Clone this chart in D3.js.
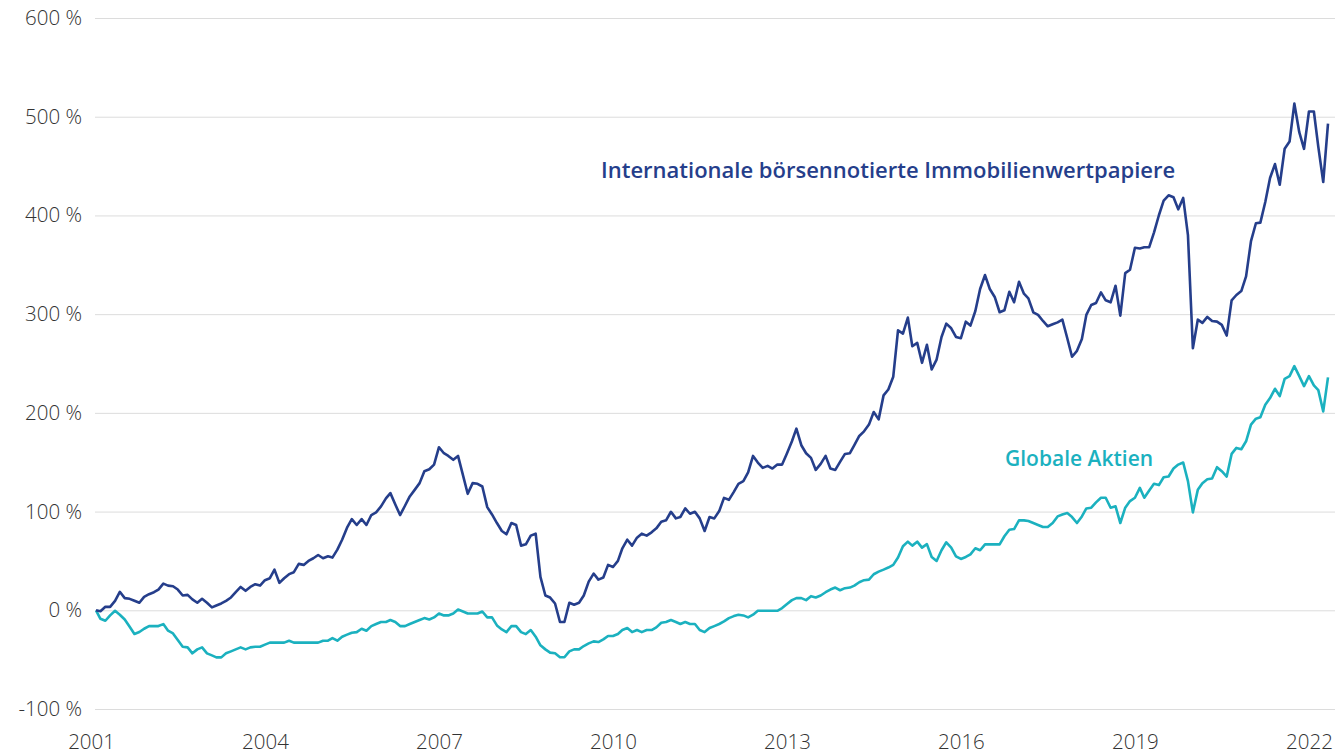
<!DOCTYPE html>
<html>
<head>
<meta charset="utf-8">
<script src="https://cdn.jsdelivr.net/npm/d3@7"></script>
<style>
  html, body { margin: 0; padding: 0; background: #ffffff; }
  svg { display: block; }
</style>
</head>
<body>
<svg id="chart" width="1335" height="755"></svg>
<script>
// ---------- DATA (monthly, first value = Feb 2001) ----------
const startYear = 2001;
const startMonth = 1; // February (0-based)

const yTicks = [-100, 0, 100, 200, 300, 400, 500, 600];
const xTickYears = [2001, 2004, 2007, 2010, 2013, 2016, 2019, 2022];

const seriesNames = ["Internationale börsennotierte Immobilienwertpapiere", "Globale Aktien"];

const reits = [
  0, -1, 3.5, 3.5, 9.6, 18.7, 12.3, 11.6, 9.6, 7.6,
  13.6, 16.3, 18.3, 21, 27, 25, 24.4, 21, 15, 15.6,
  11, 7.6, 11.6, 7.6, 2.9, 4.9, 6.9, 9.6, 13, 18.4,
  23.7, 19.7, 23.7, 26.4, 25, 30.5, 32.5, 41.2, 27.8, 32.5,
  36.6, 38.6, 47, 46, 50, 52.7, 56, 52.7, 54.7, 53.4,
  61.4, 71.5, 83.7, 92.4, 86.4, 92.4, 86.4, 96.5, 99.2, 105.2,
  113.3, 118.7, 107.2, 96.5, 105.9, 115.3, 122, 128.8, 140.9, 142.9,
  147.6, 165.2, 159.1, 156.4, 152.4, 156.4, 136.9, 118, 128.8, 128.1,
  125.4, 104.5, 97.1, 88.4, 80.3, 77, 88.4, 86.4, 65.5, 66.8,
  75.6, 77.6, 33.8, 15, 12.9, 6.9, -11.9, -11.9, 7.6, 5.6,
  7.6, 15, 29.1, 37.2, 31.1, 33.2, 46, 43.9, 50, 62.8,
  71.5, 65.5, 73.6, 77.6, 75.6, 79, 83, 89.7, 91.1, 99.8,
  93.1, 94.5, 103.2, 97.8, 99.8, 93.1, 80.3, 94.5, 93.1, 100.5,
  113.9, 111.9, 120, 128.1, 130.8, 139.6, 156.4, 149.7, 144.3, 146.3,
  143.6, 147.6, 147.6, 159.1, 171.2, 184, 167.2, 159.1, 154.4, 142.2,
  148.3, 156.4, 143.6, 142.2, 150.3, 158.4, 159.1, 167.2, 176.6, 181.3,
  188.1, 200.8, 193.4, 217.7, 223.7, 236.6, 283.6, 280.3, 296.5, 267.5,
  270.9, 250.7, 268.9, 244, 254, 276.9, 290.4, 285.7, 276.9, 275.6,
  292.4, 288.4, 303.2, 325.5, 339.6, 325.5, 317.4, 301.9, 303.9, 322.7,
  312, 332.8, 320.7, 316, 301.9, 299.2, 293.1, 287.7, 289.7, 291.7,
  294.4, 275.6, 256.8, 262.8, 274.9, 299.2, 309.3, 311.3, 322, 314,
  312, 328.8, 298.5, 341.6, 345, 367.2, 366.5, 367.8, 367.8, 382.6,
  400.2, 415, 420.4, 418.4, 406.2, 417.7, 380, 265.5, 294.4, 291.1,
  297.2, 293.1, 292.4, 289.1, 278.3, 314, 319.4, 323.4, 338.2, 373.9,
  392.1, 392.7, 413.6, 437.9, 452, 431.1, 467.5, 474.9, 513.3, 484.3,
  467.5, 505.3, 505.3, 469.5, 433.8, 493.1
];

const equities = [
  0, -8.6, -10.6, -5.2, -0.5, -4.5, -9.3, -16.7, -24, -22,
  -18.7, -16, -16, -16, -14, -20.7, -23.4, -30.1, -36.9, -37.6,
  -43.6, -39.6, -37.6, -43.6, -45.7, -47.7, -47.7, -43.6, -41.6, -39.6,
  -37.6, -39.6, -37.6, -36.9, -36.9, -34.8, -32.8, -32.8, -32.8, -32.8,
  -30.8, -32.8, -32.8, -32.8, -32.8, -32.8, -32.8, -30.8, -30.8, -28.1,
  -30.8, -26.8, -24.7, -22.7, -22.1, -18.7, -20.7, -16, -13.9, -11.9,
  -11.9, -9.9, -11.9, -16, -16, -13.9, -11.9, -9.9, -7.9, -9.3,
  -7.2, -3.2, -5.2, -5.2, -3.2, 0.8, -1.2, -3.2, -3.2, -3.2,
  -1.2, -7.2, -7.2, -15.3, -19.4, -22.1, -16, -16, -22.1, -24.1,
  -20, -26.8, -35.5, -39.6, -42.9, -43.6, -47.6, -47.6, -41.6, -39.6,
  -39.6, -36.2, -33.5, -31.5, -32.2, -29.5, -26.1, -26.1, -24.1, -20,
  -18, -22.1, -20, -22.1, -20, -20, -17.3, -12.6, -11.9, -9.9,
  -11.9, -13.9, -11.9, -13.9, -13.9, -20, -22.1, -18, -16, -13.9,
  -11.3, -7.9, -5.9, -4.5, -5.2, -7.2, -4.5, -0.5, -0.5, -0.5,
  -0.5, -0.5, 2.2, 6.3, 10.3, 12.3, 12.3, 10.3, 14.3, 13,
  15, 18.3, 21, 23, 20.3, 22.4, 23, 25, 28.4, 30.5,
  31.1, 36.5, 39.2, 41.2, 43.3, 46, 53.4, 64.8, 69.5, 65.5,
  69.5, 63.5, 67, 54, 50, 60.8, 68.9, 63.5, 54.7, 52,
  54, 56.7, 62.8, 60.8, 66.8, 66.8, 66.8, 66.8, 75, 81.6,
  82.3, 91.1, 91.1, 90.4, 88.4, 86.4, 84.3, 84.3, 88.4, 95.1,
  97.1, 98.5, 94.4, 88.4, 95.1, 103.2, 103.9, 109.3, 114, 114,
  103.9, 105.3, 88.4, 103.9, 110.6, 114, 124, 114, 121.4, 128.1,
  126.8, 134.8, 135.5, 143.6, 147.6, 149.7, 130.8, 99.2, 122, 128.8,
  132.8, 133.5, 145, 140.9, 135.5, 158.4, 164.5, 163.1, 171.2, 188.1,
  194.1, 195.5, 208.3, 215, 224.4, 217, 234.5, 237.2, 247.3, 237.2,
  227.1, 237.2, 227.8, 223, 201.5, 235.9
];

// ---------- CHART ----------
const plotLeft = 95, plotRight = 1335;
const svg = d3.select("#chart");

const dates = reits.map((_, i) => new Date(Date.UTC(startYear, startMonth + i, 1)));

const x = d3.scaleUtc()
  .domain([dates[0], dates[dates.length - 1]])
  .range([96, 1328]);

const y = d3.scaleLinear()
  .domain([-100, 600])
  .range([709, 18]);

const colors = { reits: "#253e8b", equities: "#1bb1bf" };
const tickFont = "'Open Sans', 'Noto Sans', sans-serif";

// gridlines
const grid = svg.append("g")
  .attr("transform", `translate(${plotLeft},0)`)
  .call(d3.axisLeft(y).tickValues(yTicks).tickSize(-(plotRight - plotLeft)).tickFormat(""));
grid.select(".domain").remove();
grid.selectAll(".tick line").attr("stroke", "#dcdcdc").attr("stroke-width", 1);

// y labels
const yAxis = svg.append("g")
  .attr("transform", `translate(${plotLeft},0)`)
  .call(d3.axisLeft(y).tickValues(yTicks).tickSize(0).tickPadding(13)
    .tickFormat(d => d + " %"));
yAxis.select(".domain").remove();
yAxis.selectAll("text")
  .attr("font-family", tickFont)
  .attr("font-size", 20.5)
  .attr("font-weight", 300)
  .attr("fill", "#333333");

// x labels
const xAxis = svg.append("g")
  .attr("transform", `translate(0,${y(-100)})`)
  .call(d3.axisBottom(x)
    .tickValues(xTickYears.map(yr => new Date(Date.UTC(yr, 0, 1))))
    .tickSize(0).tickPadding(25)
    .tickFormat(d3.utcFormat("%Y")));
xAxis.select(".domain").remove();
xAxis.selectAll("text")
  .attr("font-family", tickFont)
  .attr("font-size", 20.5)
  .attr("font-weight", 300)
  .attr("fill", "#333333");

// lines
const line = d3.line()
  .x((d, i) => x(dates[i]))
  .y(d => y(d));

svg.append("path")
  .datum(equities)
  .attr("fill", "none")
  .attr("stroke", colors.equities)
  .attr("stroke-width", 2.6)
  .attr("stroke-linejoin", "round")
  .attr("d", line);

svg.append("path")
  .datum(reits)
  .attr("fill", "none")
  .attr("stroke", colors.reits)
  .attr("stroke-width", 2.6)
  .attr("stroke-linejoin", "round")
  .attr("d", line);

// series labels
svg.append("text")
  .attr("x", 601).attr("y", 178)
  .attr("font-family", tickFont)
  .attr("font-weight", 600)
  .attr("font-size", 22)
  .attr("fill", colors.reits)
  .text(seriesNames[0]);

svg.append("text")
  .attr("x", 1005).attr("y", 466)
  .attr("font-family", tickFont)
  .attr("font-weight", 600)
  .attr("font-size", 21)
  .attr("fill", colors.equities)
  .text(seriesNames[1]);
</script>
</body>
</html>
